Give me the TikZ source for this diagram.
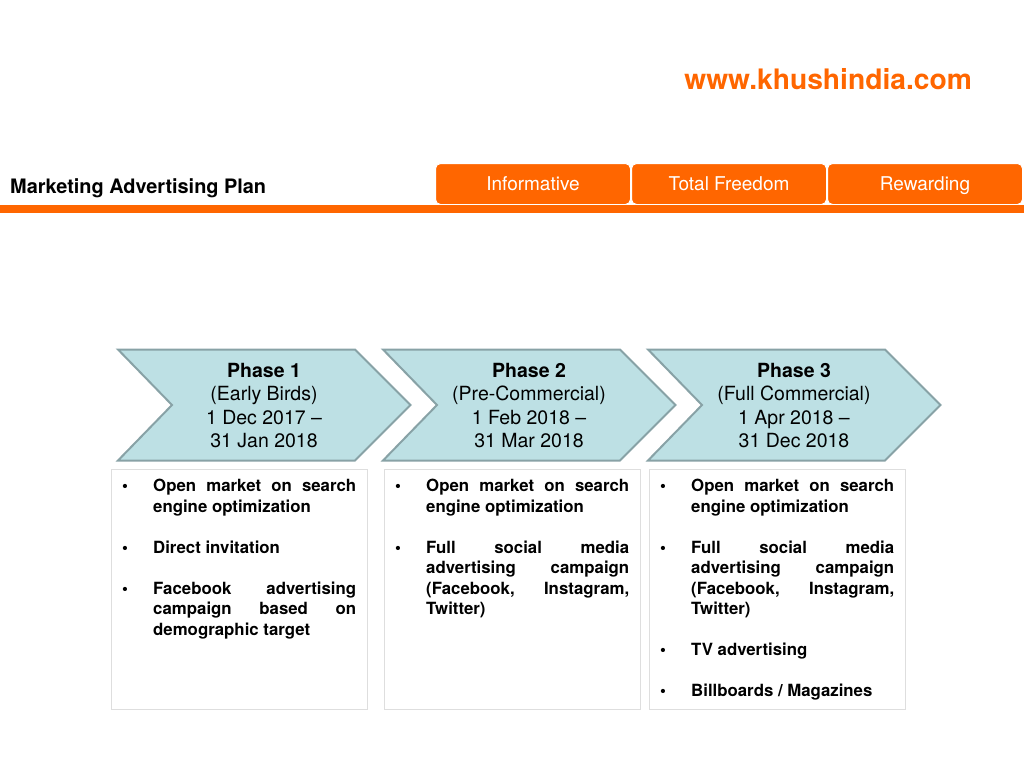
\documentclass[tikz,border=0pt]{standalone}
\usepackage{fontspec}
\setmainfont{TeX Gyre Heros}
\usetikzlibrary{positioning}

\definecolor{khorange}{RGB}{255,102,0}
\definecolor{chevfill}{RGB}{189,224,228}
\definecolor{chevline}{RGB}{136,162,166}
\definecolor{boxline}{RGB}{222,222,222}

\tikzset{
  tabbox/.style={fill=khorange, draw=white, line width=1pt, rounded corners=5pt,
    minimum width=195pt, minimum height=41pt, inner sep=0pt, text=white,
    text height=15.5pt, text depth=2.5pt, font=\fontsize{19}{22}\selectfont},
  chev/.style={fill=chevfill, draw=chevline, line width=2pt, line join=miter},
  phasetxt/.style={align=center, inner sep=0pt, font=\fontsize{19.5}{23.5}\selectfont},
  infobox/.style={draw=boxline, line width=1pt, minimum width=256pt, minimum height=240pt,
    inner sep=0pt},
  itemtxt/.style={text width=234pt, align=justify, inner sep=0pt,
    font=\fontsize{16.8}{20.5}\selectfont\bfseries}
}
\newcommand{\planitem}[1]{\noindent\hangindent=31pt\hangafter=1\makebox[31pt][l]{\textbullet}#1\par}
\newcommand{\itemgap}{\vspace{20.5pt}}

\begin{document}
\begin{tikzpicture}[x=1pt,y=-1pt]
  \useasboundingbox (0,0) rectangle (1024,768);

  % header
  \node[text=khorange, font=\fontsize{28.2}{30}\selectfont\bfseries, anchor=east, inner sep=0pt]
    (url) at (972,79) {www.khushindia.com};
  \node[font=\fontsize{19.9}{22}\selectfont\bfseries, anchor=west, inner sep=0pt]
    (title) at (10,188.5) {Marketing Advertising Plan};
  \node[tabbox] (tab1) at (533,184) {Informative};
  \node[tabbox] (tab2) at (729,184) {Total Freedom};
  \node[tabbox] (tab3) at (925,184) {Rewarding};
  \fill[khorange] (0,204.5) rectangle (1024,212.5);

  % phase arrows
  \draw[chev] (118,349.5) -- (355,349.5) -- (410.5,405) -- (355,460.5) -- (118,460.5) -- (172,405) -- cycle;
  \draw[chev] (383,349.5) -- (620,349.5) -- (675.5,405) -- (620,460.5) -- (383,460.5) -- (437,405) -- cycle;
  \draw[chev] (648,349.5) -- (885,349.5) -- (940.5,405) -- (885,460.5) -- (648,460.5) -- (702,405) -- cycle;
  \node[phasetxt] (ph1) at (264,405.5) {\textbf{Phase 1}\\(Early Birds)\\1 Dec 2017 --\\31 Jan 2018};
  \node[phasetxt] (ph2) at (529,405.5) {\textbf{Phase 2}\\(Pre-Commercial)\\1 Feb 2018 --\\31 Mar 2018};
  \node[phasetxt] (ph3) at (794,405.5) {\textbf{Phase 3}\\(Full Commercial)\\1 Apr 2018 --\\31 Dec 2018};

  % activity boxes
  \node[infobox, anchor=north west] (box1) at (111,468.5) {};
  \node[infobox, anchor=north west] (box2) at (384,468.5) {};
  \node[infobox, anchor=north west] (box3) at (649,468.5) {};

  \node[itemtxt, anchor=north west] (items1) at (122,479) {%
    \planitem{Open market on search\linebreak engine optimization}\itemgap
    \planitem{Direct invitation}\itemgap
    \planitem{Facebook advertising\linebreak campaign based on\linebreak demographic target}};
  \node[itemtxt, anchor=north west] (items2) at (395,479) {%
    \planitem{Open market on search\linebreak engine optimization}\itemgap
    \planitem{Full social media\linebreak advertising campaign\linebreak (Facebook, Instagram,\linebreak Twitter)}};
  \node[itemtxt, anchor=north west] (items3) at (660,479) {%
    \planitem{Open market on search\linebreak engine optimization}\itemgap
    \planitem{Full social media\linebreak advertising campaign\linebreak (Facebook, Instagram,\linebreak Twitter)}\itemgap
    \planitem{TV advertising}\itemgap
    \planitem{Billboards / Magazines}};
\end{tikzpicture}
\end{document}
